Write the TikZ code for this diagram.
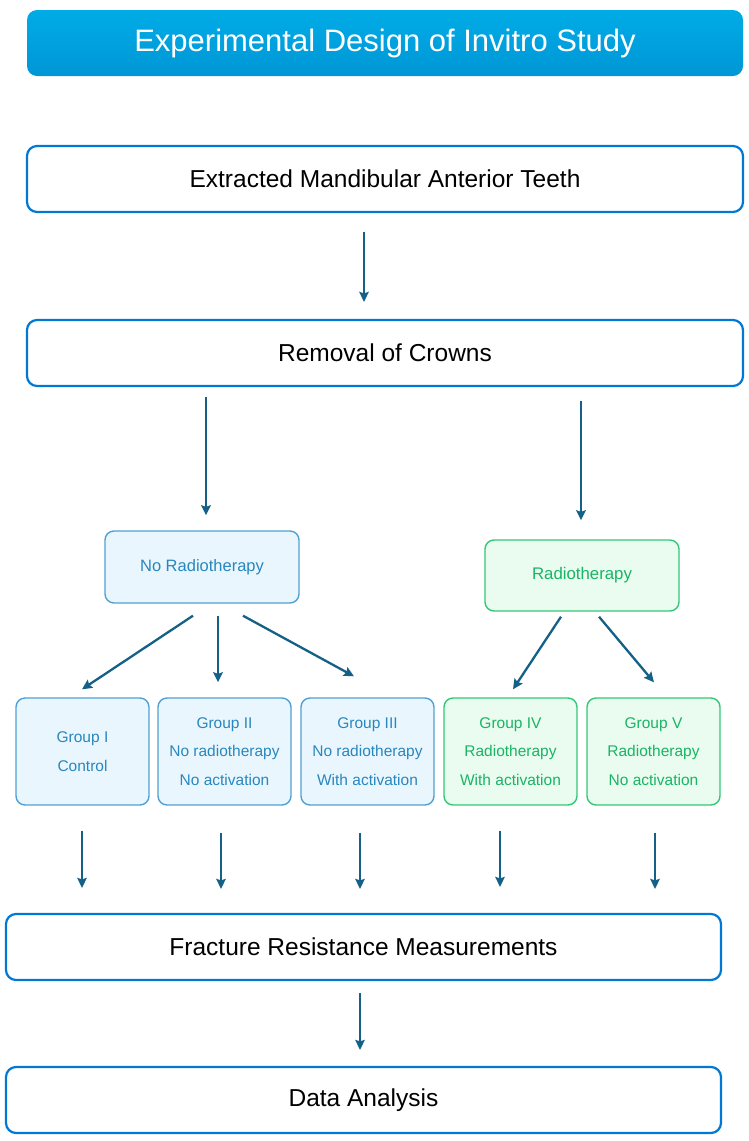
\documentclass[tikz,border=0pt]{standalone}
\usepackage{fontspec}
\setmainfont{Liberation Sans}
\usetikzlibrary{arrows.meta,calc}
\definecolor{mainb}{RGB}{0,120,212}
\definecolor{arrc}{RGB}{21,96,134}
\definecolor{bfill}{RGB}{234,246,253}
\definecolor{bdraw}{RGB}{80,160,210}
\definecolor{btext}{RGB}{40,135,190}
\definecolor{gfill}{RGB}{234,252,240}
\definecolor{gdraw}{RGB}{50,200,120}
\definecolor{gtext}{RGB}{25,180,100}
\definecolor{ttop}{RGB}{0,172,230}
\definecolor{tbot}{RGB}{0,150,214}
\begin{document}
\begin{tikzpicture}[x=1pt,y=-1pt,
  titlebox/.style={rounded corners=10pt, top color=ttop, bottom color=tbot, draw=none,
    minimum width=716pt, minimum height=66pt, inner sep=0pt, text=white,
    font=\fontsize{31}{36}\selectfont},
  mainbox/.style={rounded corners=10pt, draw=mainb, line width=2.2pt, fill=white,
    minimum height=66pt, inner sep=0pt, font=\fontsize{24.5}{29}\selectfont},
  bluebox/.style={rounded corners=9pt, draw=bdraw, line width=1.4pt, fill=bfill,
    text=btext, inner sep=0pt, align=center, font=\fontsize{15.5}{28.5}\selectfont},
  greenbox/.style={rounded corners=9pt, draw=gdraw, line width=1.4pt, fill=gfill,
    text=gtext, inner sep=0pt, align=center, font=\fontsize{15.5}{28.5}\selectfont},
  arr/.style={draw=arrc, line width=2.3pt, -{Stealth[length=10pt,width=9.5pt,inset=1.5pt]}}
]
\useasboundingbox (0,0) rectangle (749,1141);

\node[titlebox] (title) at (385,43) {Experimental Design of Invitro Study};
\node[mainbox, minimum width=716pt] (ext) at (385,179) {Extracted Mandibular Anterior Teeth};
\node[mainbox, minimum width=716pt] (rem) at (385,353) {Removal of Crowns};

\node[bluebox, minimum width=194pt, minimum height=72pt, font=\fontsize{16.5}{20}\selectfont] (norad) at (202,567) {No Radiotherapy};
\node[greenbox, minimum width=194pt, minimum height=71pt, font=\fontsize{16.8}{20}\selectfont] (rad) at (582,575.5) {Radiotherapy};

\node[bluebox, minimum width=133pt, minimum height=107pt] (g1) at (82.5,751.5) {Group I\\Control};
\node[bluebox, minimum width=133pt, minimum height=107pt] (g2) at (224.5,751.5) {Group II\\No radiotherapy\\No activation};
\node[bluebox, minimum width=133pt, minimum height=107pt] (g3) at (367.5,751.5) {Group III\\No radiotherapy\\With activation};
\node[greenbox, minimum width=133pt, minimum height=107pt] (g4) at (510.5,751.5) {Group IV\\Radiotherapy\\With activation};
\node[greenbox, minimum width=133pt, minimum height=107pt] (g5) at (653.5,751.5) {Group V\\Radiotherapy\\No activation};

\node[mainbox, minimum width=715pt] (frac) at (363.5,947) {Fracture Resistance Measurements};
\node[mainbox, minimum width=715pt] (data) at (363.5,1100) {Data Analysis};

\draw[arr] ($(ext.south)+(-21,19)$) -- ($(rem.north)+(-21,-17)$);
\draw[arr] ($(rem.south)+(-179,10)$) -- ($(norad.north)+(4,-15)$);
\draw[arr] ($(rem.south)+(196,14)$) -- ($(rad.north)+(-1,-19)$);

\draw[arr] ($(norad.south)+(-9,12)$) -- ($(g1.north)+(-0.5,-8)$);
\draw[arr] ($(norad.south)+(16,12)$) -- ($(g2.north)+(-6.5,-15)$);
\draw[arr] ($(norad.south)+(41,12)$) -- ($(g3.north)+(-13.5,-21)$);
\draw[arr] ($(rad.south)+(-21,5)$) -- ($(g4.north)+(2.5,-8)$);
\draw[arr] ($(rad.south)+(17,5)$) -- ($(g5.north)+(0.5,-15)$);

\draw[arr] ($(g1.south)+(-0.5,25)$) -- ($(g1.south |- frac.north)+(-0.5,-25)$);
\draw[arr] ($(g2.south)+(-3.5,27)$) -- ($(g2.south |- frac.north)+(-3.5,-24)$);
\draw[arr] ($(g3.south)+(-7.5,27)$) -- ($(g3.south |- frac.north)+(-7.5,-24)$);
\draw[arr] ($(g4.south)+(-10.5,25)$) -- ($(g4.south |- frac.north)+(-10.5,-26)$);
\draw[arr] ($(g5.south)+(1.5,27)$) -- ($(g5.south |- frac.north)+(1.5,-24)$);

\draw[arr] ($(frac.south)+(-3.5,12)$) -- ($(data.north)+(-3.5,-16)$);
\end{tikzpicture}
\end{document}
